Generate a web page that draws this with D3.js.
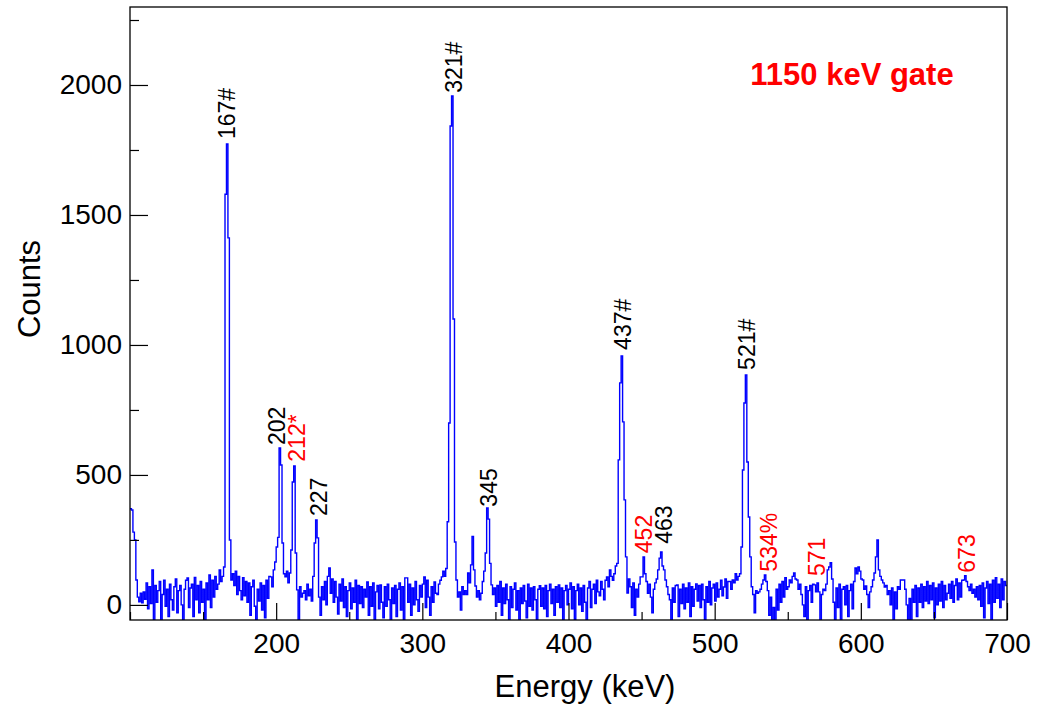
<!DOCTYPE html>
<html><head><meta charset="utf-8">
<script src="https://cdn.jsdelivr.net/npm/d3@7"></script>
<style>
body{margin:0;background:#fff}
svg text{font-family:"Liberation Sans",Arial,Helvetica,sans-serif}
</style>
</head><body>
<svg id="chart" width="1037" height="710"></svg>
<script>
// ---- data ----
const binStart = 100;   // keV, lower edge of first bin
const binWidth = 1;     // keV per bin
const counts = [
370,365,280,250,96,30,12,45,8,50,
22,85,-15,70,5,135,-60,75,10,55,
90,-70,40,95,-5,60,-45,80,20,-20,
70,100,-30,55,75,0,-65,60,95,104,
-10,65,80,-45,106,20,75,-30,90,10,
60,-60,85,20,115,-10,95,30,110,60,
80,135,90,110,146,1580,1773,1412,250,96,
120,75,130,40,110,55,20,105,35,90,
10,85,-40,70,95,-5,-65,60,15,85,
-20,75,-50,95,25,110,108,70,135,165,
223,260,604,538,238,120,108,130,85,123,
211,473,535,200,58,-60,70,30,45,55,
20,80,35,60,15,110,238,327,258,30,
-40,70,20,90,0,110,142,45,100,10,
90,30,-35,80,15,100,-10,70,-45,55,
85,-15,65,10,95,-60,75,5,70,-10,
60,30,88,-40,70,-5,85,-65,50,75,
-15,77,10,-50,70,-5,80,20,-70,65,
5,75,-45,60,85,-20,70,-60,104,104,
10,80,-40,65,0,90,20,-25,75,30,
80,108,-10,95,30,-40,70,10,88,45,
40,80,95,108,130,110,140,320,700,1842,
1958,1100,242,96,30,50,-20,70,40,55,
40,123,85,154,263,135,73,30,55,20,
45,90,130,200,373,330,160,77,40,65,
-5,75,10,90,-40,65,5,80,20,-60,
70,-10,60,85,-20,55,-65,65,5,75,
15,-50,80,-5,65,-20,70,20,-65,60,
74,-5,65,-15,75,-45,55,80,5,60,
-40,70,10,77,-10,65,-65,55,75,0,
60,85,-15,70,-55,55,80,0,65,-25,
75,10,-60,65,90,-10,60,80,5,95,
50,35,90,60,20,95,108,70,135,110,
95,120,150,160,558,854,958,704,404,185,
46,100,70,-10,85,-40,60,30,80,108,
108,185,120,90,45,80,30,-30,60,85,
100,135,180,204,150,135,96,70,40,20,
-65,65,10,75,77,-45,60,5,80,-15,
65,10,85,-45,70,-5,60,81,15,75,
-10,80,20,-60,70,10,90,0,65,80,
15,85,30,60,95,35,69,100,25,90,
90,60,96,85,120,96,110,120,223,519,
777,885,550,338,185,70,40,-30,55,45,
50,60,80,96,115,90,55,-40,30,-60,
-10,-65,60,-20,80,10,90,30,105,60,
70,96,85,110,123,100,96,60,80,40,
0,-45,70,-65,55,75,10,80,77,50,
85,50,-70,40,60,55,80,135,146,162,
100,10,-65,65,-10,80,-55,60,70,0,
75,-45,55,80,-15,90,142,120,146,130,
100,96,60,73,40,-10,50,70,96,123,
185,250,135,110,96,85,69,75,40,55,
0,65,-60,50,-15,70,60,96,96,96,
60,0,-65,25,-70,60,10,75,-45,65,
10,80,-10,70,15,90,5,75,20,85,
-50,65,0,80,15,90,-10,75,20,45,
80,25,90,10,75,100,20,85,30,95,
96,112,90,70,55,80,45,60,30,70,
20,75,-5,85,-50,65,90,5,80,-60,
95,10,105,25,80,-10,100,20,90,75
];
const xDomain = [100, 700];
const yDomain = [-58, 2300];
const xTickValues = [200, 300, 400, 500, 600, 700];
const xMinorTickValues = [100, 150, 250, 350, 450, 550, 650];
const yTickValues = [0, 500, 1000, 1500, 2000];
const yMinorTickValues = [250, 750, 1250, 1750, 2250];

const labelTexts    = ["167#", "202", "212*", "227", "321#", "345", "437#", "452", "463", "521#", "534%", "571", "673"];
const labelEnergies = [166.3, 200.5, 214.0, 229.1, 321.4, 345.3, 437.3, 451.3, 465.3, 522.2, 536.8, 570.1, 672.2];
const labelCounts   = [1792, 615, 551, 342, 1970, 378, 981, 199, 235, 904, 128, 111, 124];
const labelIsRed    = [false, false, true, false, false, false, false, true, false, false, true, true, true];

const gateText = "1150 keV gate";
const xTitle = "Energy (keV)";
const yTitle = "Counts";

// ---- layout ----
const plot = {left: 130, top: 7, right: 1007, bottom: 620};
const svg = d3.select("#chart");

const x = d3.scaleLinear().domain(xDomain).range([plot.left, plot.right]);
const y = d3.scaleLinear().domain(yDomain).range([plot.bottom, plot.top]);

svg.append("defs").append("clipPath").attr("id", "clip")
  .append("rect").attr("x", plot.left).attr("y", plot.top)
  .attr("width", plot.right - plot.left).attr("height", plot.bottom - plot.top);

// histogram
const pts = counts.map((c, i) => [binStart + i * binWidth, c]);
pts.push([binStart + counts.length * binWidth, counts[counts.length - 1]]);
const line = d3.line().x(d => x(d[0])).y(d => y(d[1])).curve(d3.curveStepAfter);
svg.append("path").attr("clip-path", "url(#clip)")
  .attr("d", line(pts)).attr("fill", "none")
  .attr("stroke", "#0000ff").attr("stroke-width", 1.4)
  .attr("stroke-linejoin", "miter");

// axes
const xAxis = d3.axisBottom(x).tickValues(xTickValues).tickSize(-17).tickPadding(13).tickFormat(d3.format("d"));
const gx = svg.append("g").attr("transform", `translate(0,${plot.bottom})`).call(xAxis);
const xMinor = d3.axisBottom(x).tickValues(xMinorTickValues).tickSize(-8).tickFormat("");
const gxm = svg.append("g").attr("transform", `translate(0,${plot.bottom})`).call(xMinor);

const yAxis = d3.axisLeft(y).tickValues(yTickValues).tickSize(-18).tickPadding(8).tickFormat(d3.format("d"));
const gy = svg.append("g").attr("transform", `translate(${plot.left},0)`).call(yAxis);
const yMinor = d3.axisLeft(y).tickValues(yMinorTickValues).tickSize(-9).tickFormat("");
const gym = svg.append("g").attr("transform", `translate(${plot.left},0)`).call(yMinor);

[gx, gxm, gy, gym].forEach(g => {
  g.select(".domain").remove();
  g.selectAll(".tick line").attr("stroke", "#000").attr("stroke-width", 1.2);
  g.selectAll(".tick text").attr("fill", "#000").style("font-size", "28px")
   .style("font-family", '"Liberation Sans",Arial,Helvetica,sans-serif');
});

// frame
svg.append("rect").attr("x", plot.left).attr("y", plot.top)
  .attr("width", plot.right - plot.left).attr("height", plot.bottom - plot.top)
  .attr("fill", "none").attr("stroke", "#000").attr("stroke-width", 1.3);

// axis titles
svg.append("text").attr("x", 585).attr("y", 697).attr("text-anchor", "middle")
  .style("font-size", "31px").attr("fill", "#000").text(xTitle);
svg.append("text").attr("transform", "translate(40,289) rotate(-90)").attr("text-anchor", "middle")
  .style("font-size", "31px").attr("fill", "#000").text(yTitle);

// peak labels
const labelSize = 23;
const capHalf = labelSize * 0.716 / 2;
labelTexts.forEach((t, i) => {
  svg.append("text")
    .attr("transform", `translate(${x(labelEnergies[i]) + capHalf},${y(labelCounts[i])}) rotate(-90)`)
    .attr("text-anchor", "start")
    .style("font-size", labelSize + "px")
    .attr("fill", labelIsRed[i] ? "#ff0000" : "#000")
    .text(t);
});

// gate annotation
svg.append("text").attr("x", 852).attr("y", 85).attr("text-anchor", "middle")
  .style("font-size", "31px").style("font-weight", "bold").attr("fill", "#ff0000").text(gateText);
</script>
</body></html>
